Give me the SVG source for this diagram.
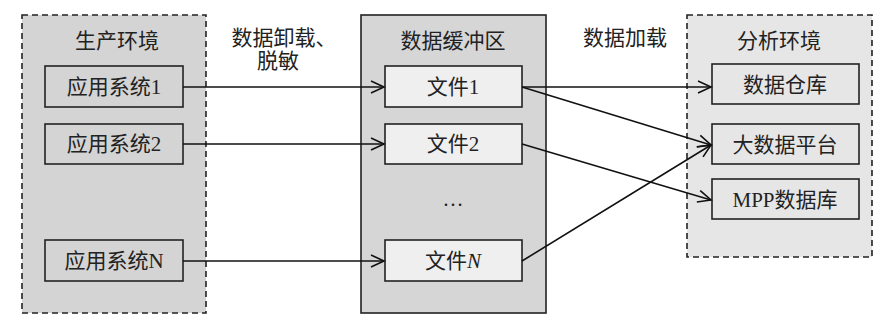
<svg xmlns="http://www.w3.org/2000/svg" width="878" height="322" viewBox="0 0 878 322">
<defs>
<marker id="arr" markerWidth="16" markerHeight="16" refX="14" refY="7" orient="auto" markerUnits="userSpaceOnUse">
<path d="M1,1 L14,7 L1,13" fill="none" stroke="#111" stroke-width="1.6"/>
</marker>
<style>
text{font-family:"Liberation Serif","Noto Sans CJK SC",serif;font-size:21px;fill:#222;text-anchor:middle}
.box{stroke:#222;stroke-width:1.6}
.cont{stroke:#222;stroke-width:1.6}
.dash{stroke-dasharray:6 4}
.conn line{stroke:#111;stroke-width:1.6;marker-end:url(#arr)}
</style>
</defs>
<rect width="878" height="322" fill="#fff"/>
<g id="prod">
<rect class="cont dash" x="22" y="15" width="184" height="298" fill="#d4d4d4"/>
<text x="117" y="48">生产环境</text>
</g>
<g id="buffer">
<rect class="cont" x="361" y="15" width="185" height="298" fill="#d6d6d6"/>
<text x="453" y="48">数据缓冲区</text>
<text x="453" y="206">…</text>
</g>
<g id="analysis">
<rect class="cont dash" x="687" y="15" width="185" height="242" fill="#e6e6e6"/>
<text x="779" y="48">分析环境</text>
</g>
<g id="app1"><rect class="box" x="45" y="66" width="138" height="41" fill="#d4d4d4"/><text x="114" y="94">应用系统1</text></g>
<g id="app2"><rect class="box" x="45" y="124" width="138" height="40" fill="#d4d4d4"/><text x="114" y="151">应用系统2</text></g>
<g id="appN"><rect class="box" x="45" y="240" width="138" height="41" fill="#d4d4d4"/><text x="114" y="268">应用系统N</text></g>
<g id="file1"><rect class="box" x="385" y="66" width="137" height="41" fill="#efefef"/><text x="453" y="94">文件1</text></g>
<g id="file2"><rect class="box" x="385" y="124" width="137" height="40" fill="#efefef"/><text x="453" y="151">文件2</text></g>
<g id="fileN"><rect class="box" x="385" y="240" width="137" height="41" fill="#efefef"/><text x="453" y="268">文件<tspan font-style="italic">N</tspan></text></g>
<g id="dw"><rect class="box" x="712" y="64" width="147" height="40" fill="#e6e6e6"/><text x="785" y="92">数据仓库</text></g>
<g id="bigdata"><rect class="box" x="712" y="124" width="147" height="40" fill="#e6e6e6"/><text x="785" y="152">大数据平台</text></g>
<g id="mpp"><rect class="box" x="712" y="179" width="147" height="40" fill="#e6e6e6"/><text x="785" y="207">MPP数据库</text></g>
<g id="labels">
<text x="284" y="45">数据卸载、</text>
<text x="278" y="68">脱敏</text>
<text x="625" y="45">数据加载</text>
</g>
<g class="conn" id="connectors">
<line x1="183" y1="87" x2="384" y2="87"/>
<line x1="183" y1="144" x2="384" y2="144"/>
<line x1="183" y1="261" x2="384" y2="261"/>
<line x1="522" y1="87" x2="711" y2="87"/>
<line x1="522" y1="87" x2="711" y2="145"/>
<line x1="522" y1="144" x2="711" y2="200"/>
<line x1="522" y1="261" x2="711" y2="145"/>
</g>
</svg>
